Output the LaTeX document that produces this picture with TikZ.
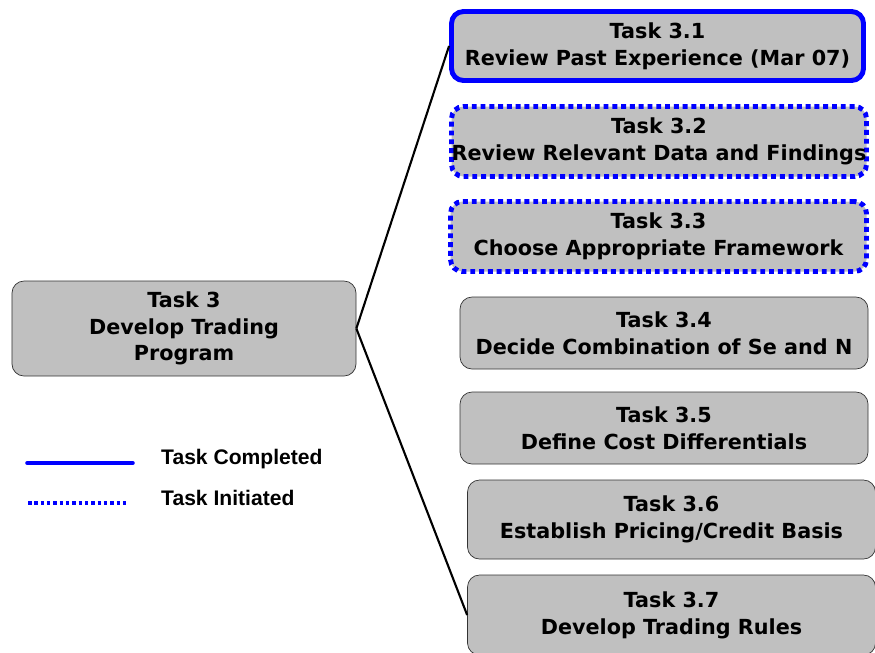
\documentclass[tikz,border=0pt]{standalone}
\usepackage{fontspec}
\setmainfont{DejaVu Sans}
\newfontfamily\legendfont{Liberation Sans}
\definecolor{boxgray}{RGB}{192,192,192}
\tikzset{
	taskbox/.style={draw=black!80, fill=boxgray, rounded corners=0.24cm, align=center,
		font=\fontsize{11.8}{15.2}\selectfont\bfseries, inner sep=0pt},
	completed/.style={draw=blue, line width=2.8pt},
	initiated/.style={draw=blue, line width=2.8pt, dash pattern=on 2.8pt off 2.2pt},
	legendtext/.style={anchor=west, font=\legendfont\fontsize{12}{14}\selectfont\bfseries}
}

\begin{document}
\begin{tikzpicture}

\useasboundingbox (0,0) rectangle (17.5,-13.04);
\clip (0,0) rectangle (17.5,-13.04);

% main task
\node[taskbox, minimum width=6.88cm, minimum height=1.9cm] (t3) at (3.68,-6.57) {Task 3\\Develop Trading\\Program};

% sub tasks
\node[taskbox, completed, minimum width=8.24cm, minimum height=1.38cm] (t31) at (13.15,-0.92) {Task 3.1\\Review Past Experience (Mar 07)};
\node[taskbox, initiated, minimum width=8.3cm, minimum height=1.4cm] (t32) at (13.18,-2.83) {Task 3.2\\Review Relevant Data and Findings};
\node[taskbox, initiated, minimum width=8.32cm, minimum height=1.4cm] (t33) at (13.17,-4.73) {Task 3.3\\Choose Appropriate Framework};
\node[taskbox, minimum width=8.16cm, minimum height=1.44cm] (t34) at (13.28,-6.66) {Task 3.4\\Decide Combination of Se and N};
\node[taskbox, minimum width=8.16cm, minimum height=1.44cm] (t35) at (13.28,-8.56) {Task 3.5\\Define Cost Differentials};
\node[taskbox, minimum width=8.16cm, minimum height=1.58cm] (t36) at (13.43,-10.39) {Task 3.6\\Establish Pricing/Credit Basis};
\node[taskbox, minimum width=8.16cm, minimum height=1.6cm] (t37) at (13.43,-12.3) {Task 3.7\\Develop Trading Rules};

\draw [line width=1.2pt] (t3.east) -- (t31.west);
\draw [line width=1.2pt] (t3.east) -- (t37.west);

% legend
\coordinate (c1) at (0.54,-9.26); \coordinate (c2) at (2.66,-9.26);
\coordinate (i1) at (0.56,-10.06); \coordinate (i2) at (2.56,-10.06);
\draw [completed, line width=2pt, line cap=round] (c1) -- (c2);
\draw [initiated, line width=2pt, dash pattern=on 2pt off 1.6pt] (i1) -- (i2);
\node[legendtext] (lc) at (3.1,-9.18) {Task Completed};
\node[legendtext] (li) at (3.1,-9.96) {Task Initiated};

\end{tikzpicture}
\end{document}
